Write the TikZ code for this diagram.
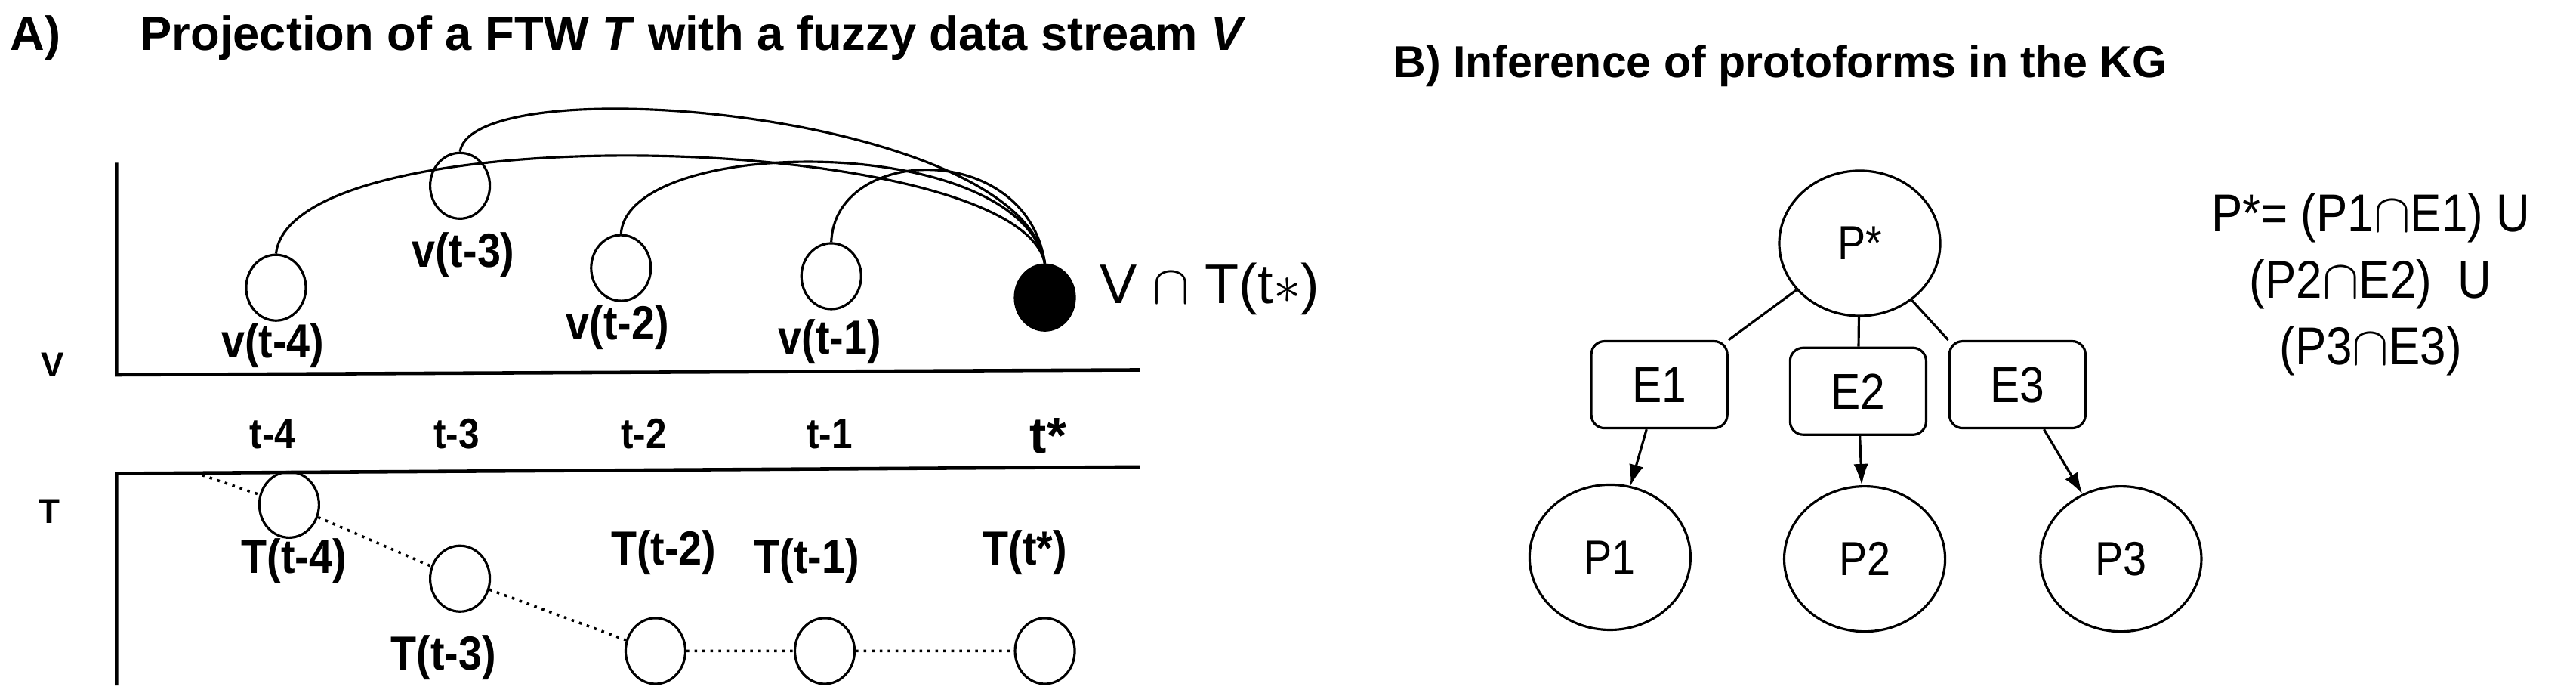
\documentclass[tikz,border=0pt]{standalone}
\usepackage{fontspec}
\setmainfont{Liberation Sans}
\newfontfamily\narrowf[FakeStretch=0.88]{Liberation Sans}
\usetikzlibrary{shapes.geometric,arrows.meta}
\begin{document}
\begin{tikzpicture}[x=0.02175cm,y=-0.02175cm,
  vc/.style={draw,ellipse,line width=0.9pt,minimum width=0.79cm,minimum height=0.87cm,inner sep=0pt},
  big/.style={draw,ellipse,line width=0.9pt,minimum width=2.13cm,minimum height=1.92cm,inner sep=0pt,font=\narrowf\fontsize{18}{20}\selectfont},
  ebox/.style={draw,rounded corners=5pt,line width=0.9pt,minimum width=1.8cm,minimum height=1.15cm,font=\narrowf\fontsize{19}{21}\selectfont},
  lbl/.style={font=\narrowf\bfseries\fontsize{18}{20}\selectfont},
  tlb/.style={font=\narrowf\bfseries\fontsize{16}{18}\selectfont},
  axis/.style={line width=1.3pt},
  arc/.style={line width=0.9pt},
  dot/.style={line width=1pt,dotted},
  arr/.style={line width=0.9pt,-{Latex[length=8pt,width=5.5pt]}}]
\useasboundingbox (0,0) rectangle (1568,423);
% titles
\node[font=\bfseries\fontsize{18}{20}\selectfont,anchor=west,inner sep=0pt] (ta) at (6,23) {A)};
\node[font=\bfseries\fontsize{18}{20}\selectfont,anchor=west,inner sep=0pt] (tt) at (85,23) {Projection of a FTW \textit{T} with a fuzzy data stream \textit{V}};
\node[font=\bfseries\fontsize{16.8}{19}\selectfont,anchor=west,inner sep=0pt] (tb) at (848,40) {B) Inference of protoforms in the KG};
% axes
\coordinate (vtop) at (71,99);
\coordinate (vo) at (71,228);
\coordinate (ve) at (694,225);
\coordinate (to) at (71,288);
\coordinate (te) at (694,284);
\coordinate (tb2) at (71,417);
\draw[axis] (vtop) -- (vo) -- (ve);
\draw[axis] (te) -- (to) -- (tb2);
\node[font=\bfseries\fontsize{13}{15}\selectfont] (Vl) at (32,222) {V};
\node[font=\bfseries\fontsize{13}{15}\selectfont] (Tl) at (30,311) {T};
% time labels
\node[tlb] (t4) at (166,264) {t-4};
\node[tlb] (t3) at (278,264) {t-3};
\node[tlb] (t2) at (392,264) {t-2};
\node[tlb] (t1) at (505,264) {t-1};
\node[font=\bfseries\fontsize{19}{21}\selectfont] (ts) at (638,265) {t*};
% v circles
\node[vc] (v4) at (168,175) {};
\node[vc] (v3) at (280,113) {};
\node[vc] (v2) at (378,163) {};
\node[vc] (v1) at (506,168) {};
\node[vc,fill=black] (vs) at (636,181) {};
\node[lbl] (l4) at (166,210) {v(t-4)};
\node[lbl] (l3) at (282,155) {v(t-3)};
\node[lbl] (l2) at (376,199) {v(t-2)};
\node[lbl] (l1) at (505,208) {v(t-1)};
\node[font=\fontsize{21}{23}\selectfont,anchor=west] (vt) at (664,176) {V $\cap$ T(t$\ast$)};
% arcs
\draw[arc] (v4.north) .. controls (178,68) and (620,80) .. (vs.north);
\draw[arc] (v3.north) .. controls (288,40) and (622,68) .. (vs.north);
\draw[arc] (v2.north) .. controls (382,82) and (620,80) .. (vs.north);
\draw[arc] (v1.north) .. controls (508,88) and (625,85) .. (vs.north);
% T circles
\node[vc] (T4) at (176,307) {};
\node[vc] (T3) at (280,352) {};
\node[vc] (T2) at (399,396) {};
\node[vc] (T1) at (502,396) {};
\node[vc] (Ts) at (636,396) {};
\coordinate (ds) at (123,289);
\draw[dot] (ds) -- (T4) -- (T3) -- (T2) -- (T1) -- (Ts);
\node[lbl] (m4) at (179,341) {T(t-4)};
\node[lbl] (m3) at (270,400) {T(t-3)};
\node[lbl] (m2) at (404,336) {T(t-2)};
\node[lbl] (m1) at (491,341) {T(t-1)};
\node[lbl] (ms) at (624,336) {T(t*)};
% Part B
\node[big] (Ps) at (1132,148) {P*};
\node[ebox] (E1) at (1010,234) {E1};
\node[ebox] (E2) at (1131,238) {E2};
\node[ebox] (E3) at (1228,234) {E3};
\node[big] (P1) at (980,339) {P1};
\node[big] (P2) at (1135,340) {P2};
\node[big] (P3) at (1291,340) {P3};
\draw[arc] (Ps) -- (E1.north east);
\draw[arc] (Ps) -- (E2);
\draw[arc] (Ps) -- (E3.north west);
\draw[arr] (E1) -- (P1);
\draw[arr] (E2) -- (P2);
\draw[arr] (E3) -- (P3);
\node[font=\narrowf\fontsize{20}{25}\selectfont,align=center] (F) at (1443,173) {P*= (P1$\cap$E1) U\\(P2$\cap$E2)\ \ U\\(P3$\cap$E3)};
\end{tikzpicture}
\end{document}
